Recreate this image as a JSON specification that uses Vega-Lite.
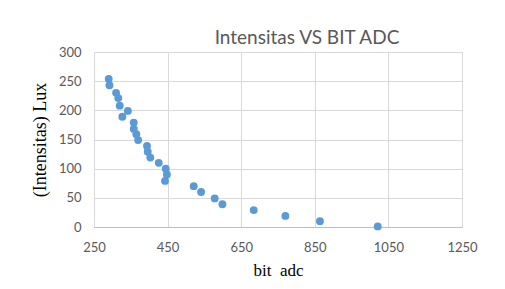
{
  "$schema": "https://vega.github.io/schema/vega-lite/v6.json",
  "width": 368,
  "height": 175,
  "autosize": "none",
  "padding": {"left": 94, "top": 52, "right": 43, "bottom": 62},
  "background": "white",
  "title": {
    "text": "Intensitas VS BIT ADC",
    "font": "Lato",
    "fontSize": 19,
    "fontWeight": "normal",
    "color": "#595959",
    "anchor": "middle",
    "dx": 29,
    "offset": -2
  },
  "data": {
    "values": [
      {"adc": 290, "lux": 254},
      {"adc": 292, "lux": 243},
      {"adc": 310, "lux": 230},
      {"adc": 316, "lux": 221},
      {"adc": 320, "lux": 208},
      {"adc": 327, "lux": 189},
      {"adc": 342, "lux": 199},
      {"adc": 358, "lux": 179},
      {"adc": 358, "lux": 168},
      {"adc": 365, "lux": 159},
      {"adc": 370, "lux": 149},
      {"adc": 394, "lux": 139},
      {"adc": 396, "lux": 129},
      {"adc": 403, "lux": 119},
      {"adc": 426, "lux": 110},
      {"adc": 445, "lux": 100},
      {"adc": 448, "lux": 90},
      {"adc": 443, "lux": 79},
      {"adc": 521, "lux": 70},
      {"adc": 541, "lux": 60},
      {"adc": 578, "lux": 49},
      {"adc": 599, "lux": 39},
      {"adc": 684, "lux": 29},
      {"adc": 770, "lux": 19},
      {"adc": 864, "lux": 10},
      {"adc": 1021, "lux": 1}
    ]
  },
  "mark": {"type": "point", "filled": true, "shape": "circle", "size": 62, "color": "#5B9BD5", "opacity": 1},
  "encoding": {
    "x": {
      "field": "adc",
      "type": "quantitative",
      "scale": {"domain": [250, 1250], "nice": false, "zero": false},
      "axis": {
        "values": [250, 450, 650, 850, 1050, 1250],
        "format": "d",
        "title": "bit\u00a0\u00a0adc",
        "titleFont": "Liberation Serif",
        "titleFontSize": 17,
        "titleFontWeight": "normal",
        "titleColor": "#000000",
        "titlePadding": 8,
        "labelFont": "Lato",
        "labelFontSize": 13,
        "labelColor": "#595959",
        "labelPadding": 14,
        "ticks": false,
        "domainColor": "#BFBFBF",
        "gridColor": "#D9D9D9",
        "labelFlush": false
      }
    },
    "y": {
      "field": "lux",
      "type": "quantitative",
      "scale": {"domain": [0, 300], "nice": false},
      "axis": {
        "values": [0, 50, 100, 150, 200, 250, 300],
        "format": "d",
        "title": "(Intensitas) Lux",
        "titleFont": "Liberation Serif",
        "titleFontSize": 18,
        "titleFontWeight": "normal",
        "titleColor": "#000000",
        "titlePadding": 9,
        "labelFont": "Lato",
        "labelFontSize": 13,
        "labelColor": "#595959",
        "labelPadding": 13,
        "ticks": false,
        "domain": false,
        "gridColor": "#D9D9D9"
      }
    }
  },
  "config": {
    "view": {"stroke": "#D9D9D9"}
  }
}
